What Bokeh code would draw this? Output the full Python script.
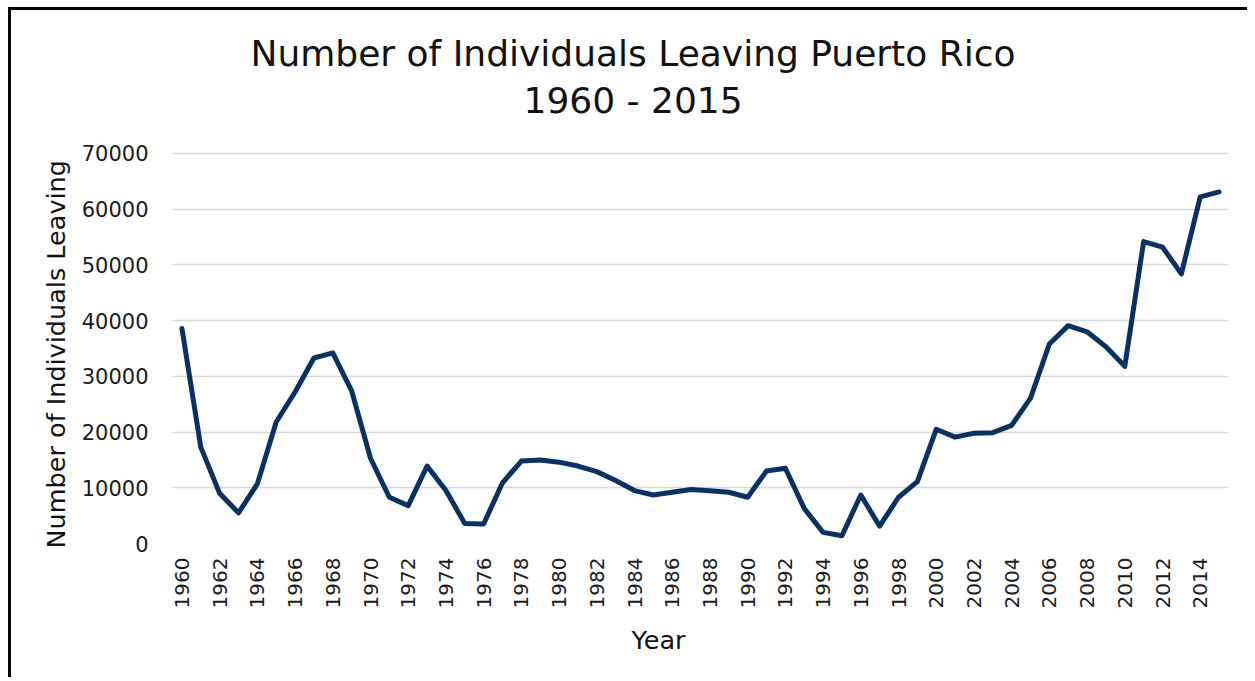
import math
from bokeh.plotting import figure
from bokeh.models import Range1d, FixedTicker, Title, ColumnDataSource
from bokeh.embed import file_html
from bokeh.resources import INLINE

years = list(range(1960, 2016))
leaving = [38600, 17300, 9000, 5500, 10700, 21800, 27200, 33300, 34200, 27400,
           15300, 8300, 6800, 13900, 9500, 3600, 3500, 10900, 14800, 15000,
           14600, 13900, 12900, 11300, 9500, 8700, 9200, 9700, 9450, 9200,
           8300, 13000, 13500, 6300, 2000, 1400, 8700, 3100, 8300, 11100,
           20500, 19100, 19800, 19900, 21200, 26100, 35800, 39100, 38000, 35300,
           31800, 54200, 53200, 48400, 62200, 63100]
x_ticks = list(range(1960, 2015, 2))
y_ticks = list(range(0, 70001, 10000))

title_line1 = "Number of Individuals Leaving Puerto Rico"
title_line2 = "1960 - 2015"
y_title = "Number of Individuals Leaving"
x_title = "Year"

FONT = "DejaVu Sans"

src = ColumnDataSource(dict(x=years, y=leaving))

# plot frame extends a little above the top gridline so the title sits close to it
p = figure(width=1239, height=670, output_backend="svg", toolbar_location=None,
           x_range=Range1d(years[0] - 0.5, years[-1] + 0.5),
           y_range=Range1d(0, 75564),
           min_border_left=161, min_border_right=22,
           min_border_top=112, min_border_bottom=137)

p.styles = {"margin-left": "8px", "margin-top": "7px",
            "border-left": "3px solid #000000", "border-top": "3px solid #000000"}

p.outline_line_color = None
p.background_fill_color = "white"
p.border_fill_color = "white"

p.line("x", "y", source=src, line_color="#0A3161", line_width=5,
       line_join="round", line_cap="round")

# grid
p.xgrid.grid_line_color = None
p.ygrid.grid_line_color = "#D9D9D9"
p.ygrid.grid_line_width = 1.5
p.ygrid.ticker = FixedTicker(ticks=y_ticks)

# y axis
p.yaxis.ticker = FixedTicker(ticks=y_ticks)
p.yaxis.axis_line_color = None
p.yaxis.major_tick_line_color = None
p.yaxis.minor_tick_line_color = None
p.yaxis.major_tick_out = 0
p.yaxis.major_tick_in = 0
p.yaxis.major_label_standoff = 24
p.yaxis.major_label_text_font = FONT
p.yaxis.major_label_text_font_size = "21px"
p.yaxis.major_label_text_color = "#1a1a1a"

ty = Title(text=y_title, align="left", offset=-5, text_font=FONT,
           text_font_size="25.5px", text_font_style="normal", text_color="#111111",
           standoff=16)
p.add_layout(ty, "left")

# x axis
p.xaxis.ticker = FixedTicker(ticks=x_ticks)
p.xaxis.axis_line_color = None
p.xaxis.major_tick_line_color = None
p.xaxis.minor_tick_line_color = None
p.xaxis.major_tick_out = 0
p.xaxis.major_tick_in = 0
p.xaxis.major_label_orientation = math.pi / 2
p.xaxis.major_label_standoff = 14
p.xaxis.major_label_text_font = FONT
p.xaxis.major_label_text_font_size = "20px"
p.xaxis.major_label_text_color = "#1a1a1a"

# titles
t2 = Title(text=title_line2, align="left", offset=351, text_font=FONT,
           text_font_size="36px", text_font_style="normal", text_color="#111111",
           standoff=4)
t1 = Title(text=title_line1, align="left", offset=78, text_font=FONT,
           text_font_size="36px", text_font_style="normal", text_color="#111111",
           standoff=4)
p.add_layout(t2, "above")
p.add_layout(t1, "above")

tx = Title(text=x_title, align="left", offset=459, text_font=FONT,
           text_font_size="25.5px", text_font_style="normal", text_color="#111111",
           standoff=22)
p.add_layout(tx, "below")

open("out.html", "w").write(file_html(p, INLINE))
